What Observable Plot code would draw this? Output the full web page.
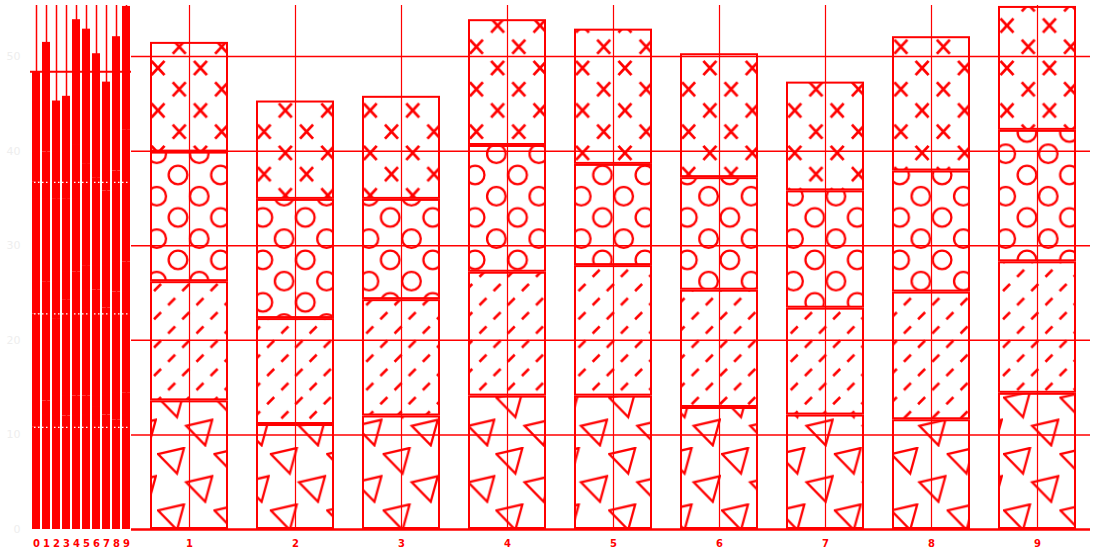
<!DOCTYPE html>
<html><head><meta charset="utf-8">
<script src="https://cdn.jsdelivr.net/npm/d3@7"></script>
<script src="https://cdn.jsdelivr.net/npm/@observablehq/plot@0.6"></script>
<style>
body{margin:0;background:#fff;}
#wrap{position:relative;width:1094px;height:558px;overflow:hidden;}
#wrap svg{position:absolute;left:0;top:0;}
</style></head><body><div id="wrap"></div>
<script>
// ---- data ----
const categories = ["0","1","2","3","4","5","6","7","8","9"];
const layers = ["tri","slash","circle","cross"];
const layerTri    = [10.8, 13.6, 11.1, 12.0, 14.1, 14.1, 12.9, 12.1, 11.6, 14.4];
const layerSlash  = [12.0, 12.6, 11.2, 12.3, 13.1, 13.8, 12.4, 11.3, 13.5, 13.9];
const layerCircle = [13.9, 13.7, 12.6, 10.6, 13.4, 10.7, 11.9, 12.4, 12.8, 13.9];
const layerCross  = [11.7, 11.6, 10.4, 10.9, 13.3, 14.3, 13.1, 11.5, 14.2, 13.1];
const yTicks = [0, 10, 20, 30, 40, 50];
const yMax = 55.4;

const series = [layerTri, layerSlash, layerCircle, layerCross];
const rows = [];
categories.forEach((c, i) => layers.forEach((l, j) => rows.push({cat: c, layer: l, value: series[j][i]})));
const mainCats = categories.slice(1);
const mainRows = rows.filter(d => d.cat !== "0");
const cat0Tops = d3.cumsum(series.map(s => s[0]));

const RED = "#ff0000";

// ---- main chart ----
const main = Plot.plot({
  width: 1094, height: 558,
  marginLeft: 131, marginRight: 4, marginTop: 5, marginBottom: 29,
  style: {background: "transparent", overflow: "visible"},
  x: {domain: mainCats, paddingInner: 0.264, paddingOuter: 0.132, insetLeft: 5, axis: null, label: null},
  y: {domain: [0, yMax], axis: null, label: null},
  color: {type: "identity"},
  marks: [
    Plot.barY(mainRows, {x: "cat", y: "value", fill: d => `url(#pat-${d.layer})`, stroke: RED, strokeWidth: 2, inset: 1}),
    Plot.ruleY(yTicks.filter(t => t > 0), {stroke: RED, strokeWidth: 1.5}),
    Plot.ruleX(mainCats, {stroke: RED, strokeWidth: 1.2}),
    Plot.ruleY([0], {stroke: RED, strokeWidth: 2.5}),
    Plot.axisX({tickSize: 0, tickPadding: 10, color: RED, fontWeight: "bold", fontSize: 10, fontFamily: "DejaVu Sans", label: null})
  ]
});

const P1 = 42.45, P2 = 56.4, P3 = 28.3;
const corners = (p) => [[0,0],[p,0],[0,p],[p,p],[p/2,p/2]];
const defs = `
<pattern id="pat-cross" patternUnits="userSpaceOnUse" x="158" y="68" width="${P1}" height="${P1}">
  ${corners(P1).map(([x,y]) => `<path transform="translate(${x},${y})" d="M-6.5,-7L6.5,7M-6.5,7L6.5,-7" stroke="${RED}" stroke-width="2.8" fill="none"/>`).join("")}
</pattern>
<pattern id="pat-circle" patternUnits="userSpaceOnUse" x="178" y="175" width="${P1}" height="${P1}">
  ${corners(P1).map(([x,y]) => `<circle cx="${x}" cy="${y}" r="9.3" stroke="${RED}" stroke-width="2.3" fill="none"/>`).join("")}
</pattern>
<pattern id="pat-tri" patternUnits="userSpaceOnUse" x="157" y="447" width="${P2}" height="${P2}">
  ${[[0,0],[P2/2,P2/2]].map(([x,y]) => `<path transform="translate(${x+1},${y+1})" d="M0,6L26,0L19,25.5Z" stroke="${RED}" stroke-width="2.3" fill="none"/>`).join("")}
</pattern>
<pattern id="pat-slash" patternUnits="userSpaceOnUse" x="152" y="282" width="${P3}" height="${P3}">
  ${[[0,0],[P3/2,P3/2]].map(([x,y]) => `<path transform="translate(${x+2},${y+2})" d="M0,7L7,0" stroke="${RED}" stroke-width="2.6" fill="none"/>`).join("")}
</pattern>`;
d3.select(main).insert("defs", ":first-child").html(defs);

// ---- mini chart on the left ----
const mini = Plot.plot({
  width: 131, height: 558,
  marginLeft: 30, marginRight: 0, marginTop: 5, marginBottom: 29,
  style: {background: "transparent", overflow: "visible"},
  x: {domain: categories, paddingInner: 0.21, paddingOuter: 0.105, axis: null, label: null},
  y: {domain: [0, yMax], axis: null, label: null},
  marks: [
    Plot.ruleX(categories, {stroke: RED, strokeWidth: 1.5}),
    Plot.ruleY([cat0Tops[3]], {stroke: RED, strokeWidth: 2}),
    Plot.barY(rows, {x: "cat", y: "value", fill: RED}),
    Plot.ruleY(cat0Tops.slice(0, 3), {stroke: "white", strokeWidth: 1.2, strokeDasharray: "1.5,2.5"}),
    Plot.axisY({ticks: yTicks, tickSize: 0, tickPadding: 10, color: "#eeeeee", fontSize: 11, fontFamily: "DejaVu Sans", label: null}),
    Plot.axisX({tickSize: 0, tickPadding: 10, color: RED, fontWeight: "bold", fontSize: 10, fontFamily: "DejaVu Sans", label: null})
  ]
});

const wrap = document.getElementById("wrap");
wrap.appendChild(main);
wrap.appendChild(mini);
</script></body></html>
